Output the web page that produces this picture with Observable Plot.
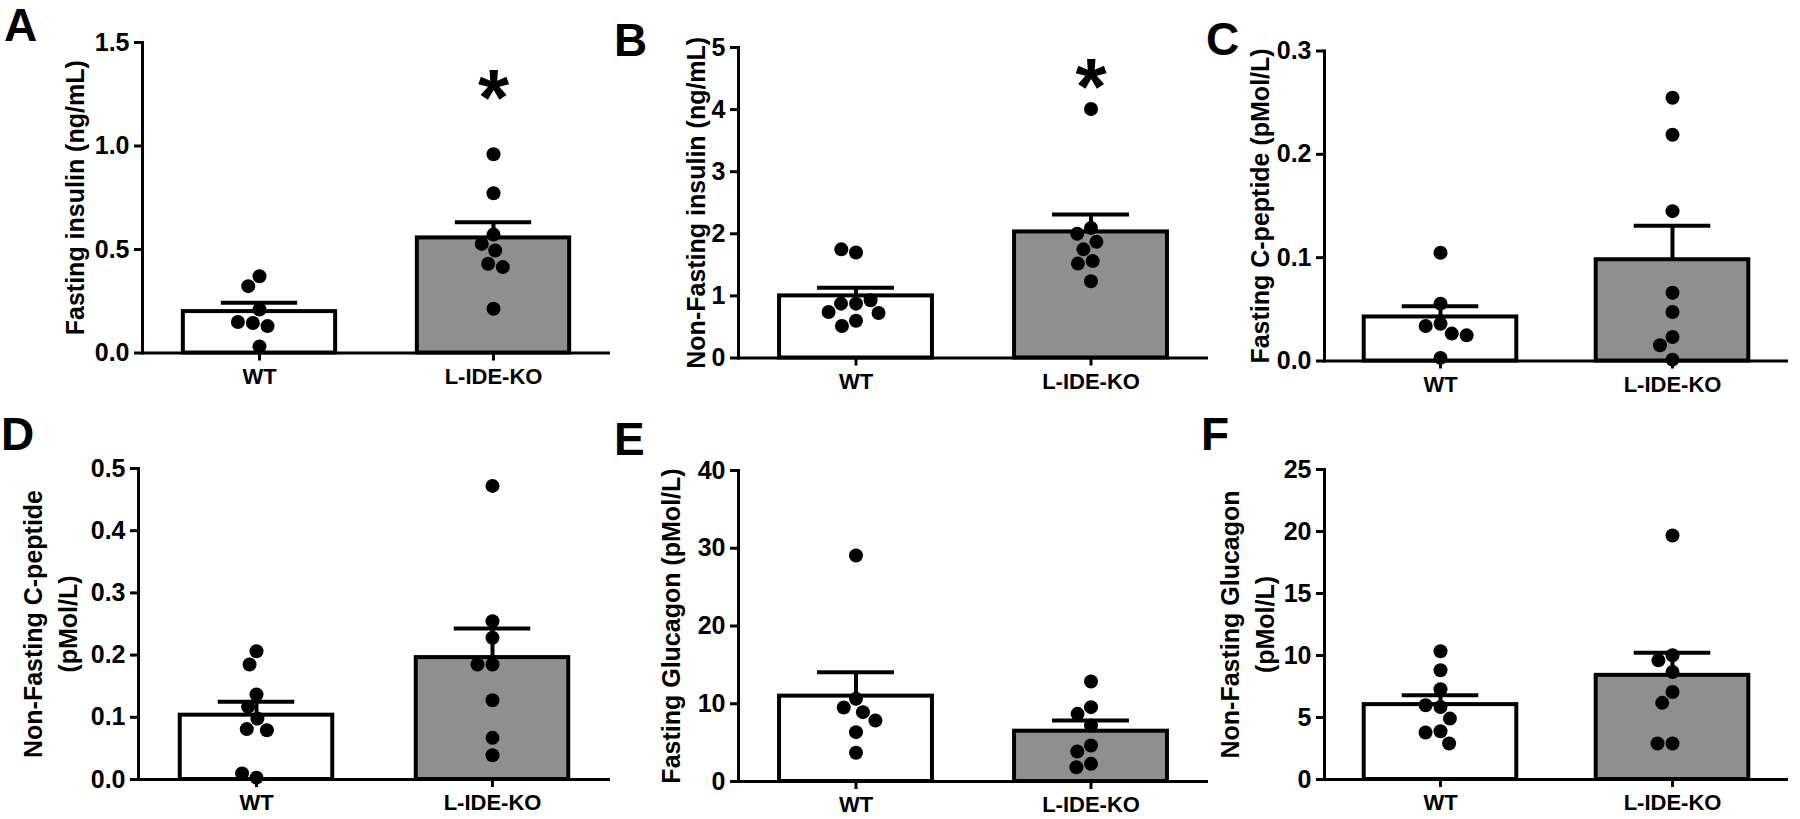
<!DOCTYPE html>
<html><head><meta charset="utf-8">
<script src="https://cdn.jsdelivr.net/npm/d3@7"></script>
<script src="https://cdn.jsdelivr.net/npm/@observablehq/plot@0.6"></script>
<style>
html,body{margin:0;padding:0;background:#fff;}
#fig{position:relative;width:1800px;height:819px;overflow:hidden;font-family:"Liberation Sans",Arial,sans-serif;}
.letter{position:absolute;font-weight:bold;font-size:46px;line-height:1;color:#000;}
#fig svg{position:absolute;max-width:none;}
</style></head><body><div id="fig"></div>
<script>
const groups = ["WT", "L-IDE-KO"];
const fills = ["#ffffff", "#8f8f8f"];

// A: Fasting insulin
const fastingInsulinWT = [0.371, 0.323, 0.21, 0.145, 0.13, 0.15, 0.032];
const fastingInsulinKO = [0.96, 0.772, 0.572, 0.527, 0.495, 0.431, 0.415, 0.214];
const fastingInsulinMean = [0.20, 0.556];
const fastingInsulinSEM = [0.043, 0.076];
const fastingInsulinStars = [null, 1.32];
const fastingInsulinTicks = [0, 0.5, 1.0, 1.5];

// B: Non-fasting insulin
const nonFastingInsulinWT = [1.70, 1.75, 0.875, 0.875, 0.93, 0.725, 0.74, 0.60, 0.515];
const nonFastingInsulinKO = [4.01, 2.095, 2.00, 1.87, 1.75, 1.56, 1.52, 1.235];
const nonFastingInsulinMean = [1.0, 2.03];
const nonFastingInsulinSEM = [0.13, 0.28];
const nonFastingInsulinStars = [null, 4.66];
const nonFastingInsulinTicks = [0, 1, 2, 3, 4, 5];

// C: Fasting C-peptide
const fastingCpepWT = [0.1048, 0.0555, 0.0361, 0.0339, 0.0265, 0.0248, 0.003];
const fastingCpepKO = [0.2548, 0.219, 0.145, 0.066, 0.0474, 0.0232, 0.0152, 0.0013];
const fastingCpepMean = [0.0426, 0.098];
const fastingCpepSEM = [0.0103, 0.033];
const fastingCpepTicks = [0, 0.1, 0.2, 0.3];

// D: Non-fasting C-peptide
const nonFastingCpepWT = [0.2063, 0.1849, 0.1367, 0.1168, 0.098, 0.081, 0.0793, 0.003, 0.0096];
const nonFastingCpepKO = [0.472, 0.2546, 0.2278, 0.1849, 0.1849, 0.1275, 0.067, 0.0391];
const nonFastingCpepMean = [0.1034, 0.196];
const nonFastingCpepSEM = [0.0215, 0.0468];
const nonFastingCpepTicks = [0, 0.1, 0.2, 0.3, 0.4, 0.5];

// E: Fasting glucagon
const fastingGlucagonWT = [29.07, 10.63, 9.52, 8.92, 7.85, 6.35, 3.69];
const fastingGlucagonKO = [12.86, 9.56, 8.7, 7.2, 4.63, 3.86, 2.27, 1.84];
const fastingGlucagonMean = [10.98, 6.47];
const fastingGlucagonSEM = [3.08, 1.38];
const fastingGlucagonTicks = [0, 10, 20, 30, 40];

// F: Non-fasting glucagon
const nonFastingGlucagonWT = [10.34, 8.81, 7.28, 5.85, 5.99, 4.91, 3.89, 3.79, 2.9];
const nonFastingGlucagonKO = [19.68, 10.02, 9.61, 8.67, 7.06, 6.18, 2.9, 2.9];
const nonFastingGlucagonMean = [6.04, 8.4];
const nonFastingGlucagonSEM = [0.75, 1.83];
const nonFastingGlucagonTicks = [0, 5, 10, 15, 20, 25];

const panelLetters = ["A", "B", "C", "D", "E", "F"];
const yLabels = [
  "Fasting insulin (ng/mL)",
  "Non-Fasting insulin (ng/mL)",
  "Fasting C-peptide (pMol/L)",
  "Non-Fasting C-peptide\n(pMol/L)",
  "Fasting Glucagon (pMol/L)",
  "Non-Fasting Glucagon\n(pMol/L)"
];

const panels = [
  {wt: fastingInsulinWT, ko: fastingInsulinKO, mean: fastingInsulinMean, sem: fastingInsulinSEM, stars: fastingInsulinStars, ticks: fastingInsulinTicks, fmt: ".1f"},
  {wt: nonFastingInsulinWT, ko: nonFastingInsulinKO, mean: nonFastingInsulinMean, sem: nonFastingInsulinSEM, stars: nonFastingInsulinStars, ticks: nonFastingInsulinTicks, fmt: "d"},
  {wt: fastingCpepWT, ko: fastingCpepKO, mean: fastingCpepMean, sem: fastingCpepSEM, stars: [null, null], ticks: fastingCpepTicks, fmt: ".1f"},
  {wt: nonFastingCpepWT, ko: nonFastingCpepKO, mean: nonFastingCpepMean, sem: nonFastingCpepSEM, stars: [null, null], ticks: nonFastingCpepTicks, fmt: ".1f"},
  {wt: fastingGlucagonWT, ko: fastingGlucagonKO, mean: fastingGlucagonMean, sem: fastingGlucagonSEM, stars: [null, null], ticks: fastingGlucagonTicks, fmt: "d"},
  {wt: nonFastingGlucagonWT, ko: nonFastingGlucagonKO, mean: nonFastingGlucagonMean, sem: nonFastingGlucagonSEM, stars: [null, null], ticks: nonFastingGlucagonTicks, fmt: "d"}
];

// layout (pixel geometry of each panel's frame, in page coordinates)
const layout = [
  {sx: 0,    sy: 0,   w: 620, h: 410, left: 141.6,  right: 611,  top: 42,   bottom: 352.5, labelDx: -70, lx: 4,    ly: 2},
  {sx: 600,  sy: 0,   w: 620, h: 410, left: 737.8,  right: 1208, top: 47,   bottom: 357.5, labelDx: -45, lx: 614,  ly: 17},
  {sx: 1200, sy: 0,   w: 600, h: 410, left: 1323.2, right: 1788, top: 50.5, bottom: 360.5, labelDx: -67, lx: 1206, ly: 16},
  {sx: 0,    sy: 410, w: 620, h: 409, left: 137,    right: 610,  top: 468,  bottom: 779,   labelDx: -90, lx: 1,    ly: 411},
  {sx: 600,  sy: 410, w: 620, h: 409, left: 737.8,  right: 1208, top: 470,  bottom: 781,   labelDx: -70, lx: 614,  ly: 416},
  {sx: 1200, sy: 410, w: 600, h: 409, left: 1323.2, right: 1788, top: 469,  bottom: 779,   labelDx: -79, lx: 1201, ly: 411}
];

const fig = document.getElementById("fig");

panels.forEach((p, k) => {
  const L = layout[k];
  const facetW = (L.right - L.left) / 2;
  const barInset = (facetW - 153) / 2;
  const capInset = (facetW - 77) / 2;
  const summary = groups.map((g, i) => ({group: g, mean: p.mean[i], top: p.mean[i] + p.sem[i]}));
  const points = groups.flatMap((g, i) => [p.wt, p.ko][i].map(v => ({group: g, v})));
  const stars = groups.map((g, i) => ({group: g, v: p.stars[i]})).filter(d => d.v != null);
  const ymax = p.ticks[p.ticks.length - 1];

  const svg = Plot.plot({
    width: L.w,
    height: L.h,
    marginLeft: L.left - L.sx,
    marginRight: L.sx + L.w - L.right,
    marginTop: L.top - L.sy,
    marginBottom: L.sy + L.h - L.bottom,
    style: {fontFamily: "'Liberation Sans', Arial, sans-serif", fontWeight: "bold", background: "transparent", overflow: "visible", color: "#000"},
    fx: {domain: groups, padding: 0, label: null},
    y: {domain: [0, ymax], label: null},
    color: {domain: groups, range: fills},
    marks: [
      Plot.barY(summary, {fx: "group", y: "mean", fill: "group", stroke: "#000", strokeWidth: 4, insetLeft: barInset, insetRight: barInset}),
      Plot.ruleX(summary, {fx: "group", x: null, y1: "mean", y2: "top", stroke: "#000", strokeWidth: 4}),
      Plot.tickY(summary, {fx: "group", y: "top", stroke: "#000", strokeWidth: 4, insetLeft: capInset, insetRight: capInset}),
      Plot.dot(points, Plot.dodgeX("middle", {fx: "group", y: "v", r: 7, fill: "#000", padding: 5})),
      Plot.text(stars, {fx: "group", y: "v", text: () => "*", fontSize: 80, lineAnchor: "middle", dy: 20, fill: "#000"}),
      Plot.ruleY([0], {stroke: "#000", strokeWidth: 3}),
      Plot.frame({anchor: "left", facetAnchor: "left", stroke: "#000", strokeWidth: 3}),
      Plot.axisY({ticks: p.ticks, tickFormat: d3.format(p.fmt), tickSize: 8, tickPadding: 5, fontSize: 25, strokeWidth: 3, label: null}),
      Plot.axisFx({anchor: "bottom", tickSize: 8, tickPadding: 7, fontSize: 22, strokeWidth: 3, label: null}),
      Plot.text([yLabels[k]], {text: d => d, frameAnchor: "left", rotate: -90, dx: L.labelDx, fontSize: 25, lineHeight: 1.4, textAnchor: "middle", lineAnchor: "middle", facetAnchor: "left", fill: "#000"})
    ]
  });
  svg.style.left = L.sx + "px";
  svg.style.top = L.sy + "px";
  fig.appendChild(svg);

  const letter = document.createElement("div");
  letter.className = "letter";
  letter.textContent = panelLetters[k];
  letter.style.left = L.lx + "px";
  letter.style.top = L.ly + "px";
  fig.appendChild(letter);
});
</script>
</body></html>
